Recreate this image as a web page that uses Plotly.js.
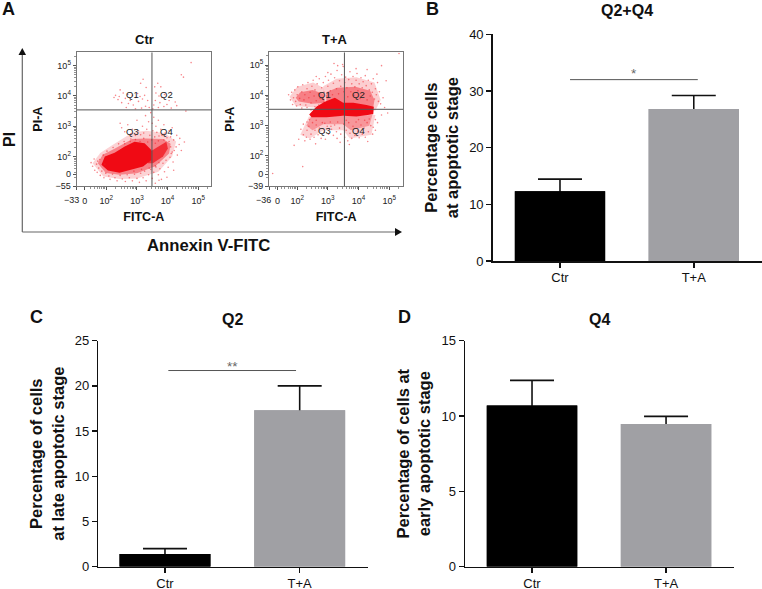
<!DOCTYPE html>
<html>
<head>
<meta charset="utf-8">
<script src="https://cdn.plot.ly/plotly-3.0.1.min.js"></script>
<style>html,body{margin:0;padding:0;background:#fff}#chart{width:762px;height:589px}</style>
</head>
<body>
<div id="chart"></div>
<script>
// ---------- bar data ----------
const groups = ["Ctr", "T+A"];
const q2q4Means = [12.3, 26.8];
const q2q4Errors = [2.15, 2.4];
const q2Means = [1.4, 17.3];
const q2Errors = [0.6, 2.7];
const q4Means = [10.7, 9.47];
const q4Errors = [1.67, 0.51];
const barColors = ["#000000", "#a0a0a4"];

// ---------- flow panels, in decades on the display scale ----------
// Outlines of the dense clouds, and individual events read from the fringes.
const ctrCore = [[1.84,1.73],[1.95,2.0],[2.27,2.13],[2.6,2.33],[2.92,2.49],[3.25,2.44],[3.47,2.22],[3.47,1.89],[3.2,1.67],[2.82,1.58],[2.43,1.47],[2.05,1.54]];
const ctrLobe = [[3.41,2.15],[3.72,2.33],[3.96,2.49],[4.01,2.27],[3.85,2.0],[3.52,1.78],[3.36,1.78]];
const ctrHaloInner = [[1.72,1.78],[1.88,2.06],[2.25,2.25],[2.85,2.58],[3.3,2.6],[3.85,2.58],[4.1,2.42],[4.05,2.1],[3.6,1.68],[3.0,1.45],[2.43,1.4],[1.98,1.46]];
const ctrHaloOuter = [[1.55,1.78],[1.8,2.12],[2.2,2.38],[2.87,2.8],[3.3,2.85],[3.9,2.78],[4.28,2.5],[4.15,2.0],[3.7,1.5],[3.0,1.28],[2.43,1.26],[1.9,1.34]];
const taCore = [[2.39,3.37],[2.63,3.63],[2.90,3.79],[3.23,3.92],[3.50,3.76],[3.83,3.76],[4.26,3.68],[4.50,3.62],[4.48,3.38],[3.93,3.30],[3.50,3.33],[2.96,3.28],[2.47,3.28]];
const taInnerLeft = [[1.95,3.92],[2.1,4.1],[2.5,4.18],[2.85,4.05],[2.9,3.75],[2.5,3.72],[2.05,3.8]];
const taInnerRight = [[2.95,4.1],[3.3,4.25],[3.9,4.28],[4.38,4.15],[4.52,3.85],[4.48,3.6],[2.95,3.75]];
const taInnerLow = [[2.3,3.0],[2.45,3.3],[4.45,3.35],[4.35,3.0],[3.75,2.85],[3.5,3.05],[2.85,3.05],[2.5,2.85]];
const taHaloLeft = [[1.75,3.95],[2.0,4.28],[2.52,4.42],[2.85,4.25],[2.90,3.75],[2.52,3.6],[1.95,3.65]];
const taHaloRight = [[2.85,4.3],[3.28,4.55],[3.93,4.6],[4.52,4.42],[4.72,3.85],[4.55,3.5],[2.85,3.7]];
const taHaloLow = [[2.1,2.7],[2.38,3.3],[4.55,3.35],[4.42,2.7],[3.72,2.58],[3.50,2.85],[2.85,2.85],[2.41,2.58]];

const ctrEvents = [
[2.25,3.95],[2.3,4.02],[2.38,3.88],[2.42,3.98],[2.55,4.1],[2.5,3.78],[2.62,3.92],[2.7,4.05],[2.72,3.75],[2.78,3.85],[2.85,4.02],[2.88,3.7],[2.95,3.95],[3.02,4.08],[3.05,3.82],[3.1,3.98],[3.12,4.42],[3.18,3.9],[3.2,4.55],[3.25,4.02],[3.28,3.66],[3.3,4.28],[3.35,3.85],[3.15,3.6],[2.65,3.62],[2.95,3.58],[3.4,3.62],[2.45,4.2],
[3.55,3.7],[3.6,3.85],[3.62,4.1],[3.68,4.42],[3.7,3.62],[3.75,3.78],[3.78,4.3],[3.82,3.95],[3.88,3.65],[3.9,4.05],[3.98,3.72],[4.05,3.85],[4.1,4.12],[4.12,3.6],[4.25,3.8],[4.3,3.68],[4.45,4.7],[4.52,4.62],[4.77,5.1],[4.6,3.5],[3.58,4.3],[3.52,3.58],[3.72,4.0],
[2.45,3.1],[2.5,2.95],[2.6,2.82],[2.7,3.05],[2.8,2.75],[2.85,2.9],[2.95,2.7],[3.0,3.2],[3.05,2.85],[3.12,2.72],[3.18,3.0],[3.22,2.78],[3.28,3.35],[3.32,2.9],[3.38,3.15],[3.42,2.7],[3.45,3.45],[3.5,3.1],[3.52,2.85],[3.55,3.3],[3.58,2.65],[3.62,3.0],[3.65,2.8],[3.7,3.2],[3.72,2.68],[3.78,2.9],[3.82,2.7],[3.88,3.05],[3.92,2.78],[3.98,2.62],[4.05,2.85],[4.1,2.65],[4.15,2.95],[4.2,2.55],[4.3,2.7],[4.4,2.6],
[1.5,1.8],[1.55,1.68],[1.6,1.92],[1.62,1.55],[1.68,1.75],[1.7,1.48],[1.75,1.62],[1.78,1.9],[1.8,1.38],[1.85,1.52],[1.9,2.05],[1.92,1.3],[1.98,1.45],[2.02,2.18],[2.08,1.36],[2.12,1.25],[2.2,1.42],[2.22,2.3],[2.28,1.3],[2.35,1.2],[2.4,2.42],[2.45,1.38],[2.52,1.26],[2.58,2.5],[2.62,1.18],[2.68,1.4],[2.75,1.3],[2.8,2.58],[2.85,1.2],[2.92,1.42],[3.0,1.28],[3.08,1.15],[3.12,1.45],[3.2,1.3],[3.25,1.52],[3.3,1.2],[3.38,1.4],[3.45,1.58],[3.5,1.28],[3.55,1.48],[3.6,1.12],[3.62,1.66],[3.7,1.4],[3.75,1.6],[3.8,1.25],[3.85,1.78],[3.9,1.5],[3.95,1.88],[4.02,1.65],[4.08,1.98],[4.12,2.1],[4.18,1.82],[4.22,2.2],[4.28,2.32],[4.32,2.05],[4.38,2.4],[4.45,2.2],[4.55,2.48],[4.2,1.55],[3.98,1.32],[3.72,1.22],
[2.6,2.42],[2.78,2.5],[2.95,2.56],[3.1,2.5],[3.22,2.6],[3.35,2.48],[3.48,2.55],[3.6,2.44],[3.7,2.52],[3.88,2.55],[4.05,2.5],[4.1,2.32],[4.15,2.15],[1.72,1.85],[1.95,1.75],[3.6,1.7],[3.72,1.8],[3.4,1.62],[3.15,1.58],[2.9,1.52]
];
const taEvents = [
[1.2,1.42],[2.18,1.65],[1.9,2.35],[2.05,2.55],[2.2,2.7],[2.12,2.88],[2.25,2.5],[2.3,2.62],[2.32,2.85],[2.38,2.98],[2.42,2.55],[2.45,2.72],[2.5,3.1],[2.55,2.62],[2.58,2.85],[2.62,3.02],[2.68,2.7],[2.72,2.92],[2.78,2.58],[2.82,3.1],[2.88,2.78],[2.92,2.55],[2.98,2.98],[3.02,2.72],[3.08,3.12],[3.12,2.88],[3.18,2.68],[3.22,3.02],[3.28,2.8],[3.32,3.12],[3.38,2.92],[3.42,2.72],[3.52,3.05],[3.55,2.62],[3.6,2.85],[3.65,2.5],[3.68,3.1],[3.72,2.75],[3.78,2.58],[3.82,2.98],[3.88,2.68],[3.92,3.12],[3.98,2.82],[4.02,2.6],[4.08,3.02],[4.12,2.72],[4.18,2.92],[4.22,2.62],[4.28,3.1],[4.32,2.8],[4.4,3.0],[4.46,2.72],[4.55,3.2],[4.62,3.1],[4.75,3.35],[4.3,2.48],[3.7,2.38],[2.6,2.4],[3.4,2.45],
[1.72,4.02],[1.78,3.85],[1.82,4.1],[1.88,3.92],[1.92,4.18],[1.95,3.8],[2.0,4.02],[2.02,4.28],[2.08,3.9],[2.1,3.7],[2.15,4.12],[2.18,4.35],[2.22,3.85],[2.25,4.02],[2.28,3.68],[2.32,4.22],[2.35,4.42],[2.38,3.92],[2.42,4.1],[2.45,3.75],[2.48,4.3],[2.52,4.5],[2.55,3.98],[2.58,4.18],[2.62,3.82],[2.65,4.38],[2.7,4.05],[2.72,4.55],[2.75,3.9],[2.8,4.25],[2.85,4.42],[2.88,4.1],[2.92,4.62],[2.95,3.98],[3.0,4.3],[3.02,4.5],[3.08,4.15],[3.1,4.7],[3.15,4.02],[3.18,4.4],[3.22,4.58],[3.28,4.22],[3.3,4.82],[3.32,4.98],[3.35,4.05],[3.38,4.48],[3.42,4.3],[3.45,4.68],[3.48,5.02],
[3.52,4.12],[3.55,4.42],[3.58,4.6],[3.62,4.25],[3.65,3.95],[3.68,4.52],[3.72,4.78],[3.75,4.12],[3.78,4.38],[3.82,4.62],[3.85,4.0],[3.88,4.28],[3.92,4.5],[3.95,4.72],[3.98,4.15],[4.02,4.38],[4.05,3.9],[4.08,4.58],[4.12,4.25],[4.15,4.45],[4.18,4.05],[4.22,4.65],[4.25,4.32],[4.28,3.85],[4.32,4.5],[4.35,4.18],[4.38,3.98],[4.42,4.38],[4.45,4.1],[4.48,4.55],[4.52,3.88],[4.55,4.22],[4.58,4.02],[4.62,4.42],[4.65,3.8],[4.68,4.12],[4.72,3.72],[4.85,3.6],[4.95,3.42],[4.8,3.92],[4.9,4.48],[4.75,4.98],
[3.2,5.05],[3.5,4.95],[3.92,4.88],[4.28,4.85],[3.0,4.75],[2.62,4.62],[4.6,4.7],[5.32,5.38],[2.9,3.08],[3.1,2.98],[3.3,2.58],[3.6,3.18],[4.0,3.2],[4.2,3.18],[4.35,3.22],[4.48,2.95],[4.55,2.85],[2.4,3.2],[2.32,3.12],[2.2,3.05],[2.62,3.18],[1.98,3.65],[2.15,3.58],[2.32,3.6],[2.45,3.52],[1.85,3.7],[2.58,3.62],[2.7,3.68]
];

const decadeTicks = [2, 3, 4, 5];
const decadeLabels = ["10<sup>2</sup>", "10<sup>3</sup>", "10<sup>4</sup>", "10<sup>5</sup>"];
const ctrXTicks = [1.03, 1.29].concat(decadeTicks);
const ctrXLabels = ["", "0"].concat(decadeLabels);
const ctrXEdgeLabel = "\u221233";
const ctrYTicks = [1.03, 1.42].concat(decadeTicks);
const ctrYLabels = ["\u221255", "0"].concat(decadeLabels);
const taXTicks = [1.08, 1.36].concat(decadeTicks);
const taXLabels = ["", "0"].concat(decadeLabels);
const taXEdgeLabel = "\u221236";
const taYTicks = [1.01, 1.40].concat(decadeTicks);
const taYLabels = ["\u221239", "0"].concat(decadeLabels);
const decadeMinor = [0.30, 0.48, 0.60, 0.70, 0.78, 0.85, 0.90, 0.95];

// ---------- page geometry ----------
const W = 762, H = 589, FONT = '"Liberation Sans", Arial, sans-serif';
const px = x => x / W, py = y => 1 - y / H;
const xDom = (a, b) => [px(a), px(b)], yDom = (top, bot) => [py(bot), py(top)];

function minorTicks(lo, hi) {
  const out = [];
  for (let d = 1; d <= 5; d++) decadeMinor.forEach(m => { if (d + m > lo && d + m < hi) out.push(d + m); });
  return out;
}
function flowAxis(dom, range, vals, labels, titleText, standoff) {
  return {
    domain: dom, range: range, showgrid: false, zeroline: false,
    showline: true, mirror: true, linecolor: "#777", linewidth: 1,
    ticks: "outside", ticklen: 3, tickwidth: 1, tickcolor: "#555", tickangle: 0,
    tickmode: "array", tickvals: vals, ticktext: labels,
    tickfont: {family: FONT, size: 9, color: "#222"},
    minor: {tickmode: "array", tickvals: minorTicks(range[0], range[1]), ticks: "outside", ticklen: 2, tickwidth: 0.7, tickcolor: "#666"},
    title: {text: "<b>" + titleText + "</b>", font: {family: FONT, size: 12.5, color: "#111"}, standoff: standoff}
  };
}
function barXAxis(dom, range) {
  return {
    domain: dom, range: range, showgrid: false, zeroline: false, showline: true,
    linecolor: "#111", linewidth: 1.5, ticks: "outside", ticklen: 5, tickwidth: 1.5, tickcolor: "#111",
    tickmode: "array", tickvals: [0, 1], ticktext: groups, ticklabelstandoff: -1,
    tickfont: {family: FONT, size: 13, color: "#111"}
  };
}
function barYAxis(dom, range, dtick, titleText, standoff) {
  return {
    domain: dom, range: range, dtick: dtick, tick0: 0, showgrid: false, zeroline: false, showline: true,
    linecolor: "#111", linewidth: 1.5, ticks: "outside", ticklen: 5, tickwidth: 1.5, tickcolor: "#111",
    tickfont: {family: FONT, size: 13, color: "#111"},
    title: {text: "<b>" + titleText + "</b>", font: {family: FONT, size: 16.5, color: "#111"}, standoff: standoff}
  };
}
// The error bar is drawn symmetric on one bar, and a second copy of the bar on
// top covers its lower half, so only the upper whisker shows as in the figure.
function barTraces(means, errors, xa, ya) {
  const base = {type: "bar", x: [0, 1], y: means, width: 0.675, xaxis: xa, yaxis: ya,
    marker: {color: barColors, line: {width: 0}}, showlegend: false, hoverinfo: "skip"};
  return [
    Object.assign({}, base, {error_y: {type: "data", symmetric: true, array: errors, color: "#111", thickness: 1.6, width: 22}}),
    Object.assign({}, base)
  ];
}
function cloud(poly, xa, ya, opacity) {
  return {
    type: "scatter", mode: "lines", x: poly.map(p => p[0]).concat(poly[0][0]), y: poly.map(p => p[1]).concat(poly[0][1]),
    fill: "toself", fillcolor: "rgba(240,10,20," + opacity + ")", line: {width: 0}, xaxis: xa, yaxis: ya,
    showlegend: false, hoverinfo: "skip"
  };
}
function events(list, xa, ya) {
  return {
    type: "scatter", mode: "markers", x: list.map(p => p[0]), y: list.map(p => p[1]), xaxis: xa, yaxis: ya,
    marker: {size: 1.6, color: "#f0202a", opacity: 0.55, line: {width: 0}}, showlegend: false, hoverinfo: "skip"
  };
}

const traces = [
  cloud(ctrHaloOuter, "x", "y", 0.18), cloud(ctrHaloInner, "x", "y", 0.4), cloud(ctrLobe, "x", "y", 0.7), cloud(ctrCore, "x", "y", 1), events(ctrEvents, "x", "y"),
  cloud(taHaloLeft, "x2", "y2", 0.2), cloud(taHaloRight, "x2", "y2", 0.2), cloud(taHaloLow, "x2", "y2", 0.18),
  cloud(taInnerLeft, "x2", "y2", 0.4), cloud(taInnerRight, "x2", "y2", 0.4), cloud(taInnerLow, "x2", "y2", 0.3),
  cloud(taCore, "x2", "y2", 1), events(taEvents, "x2", "y2")
].concat(
  barTraces(q2q4Means, q2q4Errors, "x3", "y3"),
  barTraces(q2Means, q2Errors, "x4", "y4"),
  barTraces(q4Means, q4Errors, "x5", "y5")
);

const ax1 = flowAxis(xDom(76.7, 211), [1.03, 5.42], ctrXTicks, ctrXLabels, "FITC-A", 7); ax1.anchor = "y"; ax1.ticklabelstandoff = 3;
const ay1 = flowAxis(yDom(52.3, 186), [1.03, 5.44], ctrYTicks, ctrYLabels, "PI-A", 10); ay1.anchor = "x";
const ax2 = flowAxis(xDom(269, 403.3), [1.08, 5.46], taXTicks, taXLabels, "FITC-A", 7); ax2.anchor = "y2"; ax2.ticklabelstandoff = 3;
const ay2 = flowAxis(yDom(52.3, 186), [1.01, 5.42], taYTicks, taYLabels, "PI-A", 10); ay2.anchor = "x2";

const ax3 = barXAxis(xDom(492.7, 762), [-0.503, 1.51]); ax3.anchor = "y3";
const ay3 = barYAxis(yDom(34.3, 261), [0, 40], 10, "Percentage cells<br>at apoptotic stage", 6); ay3.anchor = "x3";
const ax4 = barXAxis(xDom(98.3, 367.7), [-0.495, 1.505]); ax4.anchor = "y4";
const ay4 = barYAxis(yDom(340.7, 566.7), [0, 25], 5, "Percentage of cells<br>at late apoptotic stage", 6); ay4.anchor = "x4";
const ax5 = barXAxis(xDom(465, 734), [-0.5, 1.507]); ax5.anchor = "y5";
const ay5 = barYAxis(yDom(340.7, 566.7), [0, 15], 5, "Percentage of cells at<br>early apoptotic stage", 6); ay5.anchor = "x5";

function label(text, x, y, size, bold, angle) {
  return {xref: "paper", yref: "paper", x: px(x), y: py(y), xanchor: "center", yanchor: "middle", showarrow: false,
    text: bold ? "<b>" + text + "</b>" : text, textangle: angle || 0, font: {family: FONT, size: size, color: "#111"}};
}
function edgeTick(text, x, y) {
  return {xref: "paper", yref: "paper", x: px(x), y: py(y), xanchor: "center", yanchor: "middle", showarrow: false,
    text: text, font: {family: FONT, size: 9, color: "#222"}};
}
function quad(text, x, y, xa, ya) {
  return {xref: xa, yref: ya, x: x, y: y, xanchor: "center", yanchor: "middle", showarrow: false, text: text,
    font: {family: FONT, size: 9.5, color: "#222"}};
}
const annotations = [
  label("A", 8, 9, 18, true), label("B", 432, 9, 18, true), label("C", 36, 317, 18, true), label("D", 404, 317, 18, true),
  label("Ctr", 144, 40, 13, true), label("T+A", 335, 40, 13, true),
  label("Q2+Q4", 627, 10, 16, true), label("Q2", 232, 319, 16, true), label("Q4", 599, 319, 16, true),
  label("PI", 9, 140, 16, true, -90), label("Annexin V-FITC", 209, 246, 16.7, true),
  edgeTick(ctrXEdgeLabel, 71, 200), edgeTick(taXEdgeLabel, 263, 200),
  quad("Q1", 2.85, 4.04, "x", "y"), quad("Q2", 3.97, 4.04, "x", "y"), quad("Q3", 2.85, 2.84, "x", "y"), quad("Q4", 3.97, 2.84, "x", "y"),
  quad("Q1", 2.9, 4.04, "x2", "y2"), quad("Q2", 4.01, 4.04, "x2", "y2"), quad("Q3", 2.9, 2.84, "x2", "y2"), quad("Q4", 4.01, 2.84, "x2", "y2"),
  {xref: "x3", yref: "y3", x: 0.55, y: 33, showarrow: false, text: "*", font: {family: FONT, size: 13.5, color: "#666"}},
  {xref: "x4", yref: "y4", x: 0.5, y: 22.2, showarrow: false, text: "**", font: {family: FONT, size: 13.5, color: "#666"}}
];

function hairline(xa, ya, x0, y0, x1, y1, color, width) {
  return {type: "line", xref: xa, yref: ya, x0: x0, y0: y0, x1: x1, y1: y1, layer: "above", line: {color: color, width: width}};
}
const shapes = [
  hairline("x", "y", 3.49, 1.03, 3.49, 5.44, "#555", 1),
  hairline("x", "y", 1.03, 3.54, 5.42, 3.54, "#555", 1),
  hairline("x2", "y2", 3.54, 1.01, 3.54, 5.42, "#555", 1),
  hairline("x2", "y2", 1.08, 3.54, 5.46, 3.54, "#555", 1),
  hairline("x3", "y3", 0.075, 32, 1.03, 32, "#555", 1),
  hairline("x4", "y4", 0.025, 21.7, 0.973, 21.7, "#555", 1),
  // Annexin / PI arrows
  hairline("paper", "paper", px(22.3), py(232), px(22.3), py(55), "#666", 1.2),
  hairline("paper", "paper", px(22.3), py(232), px(396), py(232), "#666", 1.2),
  {type: "path", xref: "paper", yref: "paper", fillcolor: "#111", line: {width: 0},
    path: `M ${px(18.5)} ${py(55)} L ${px(26)} ${py(55)} L ${px(22.3)} ${py(48)} Z`},
  {type: "path", xref: "paper", yref: "paper", fillcolor: "#111", line: {width: 0},
    path: `M ${px(395)} ${py(228)} L ${px(395)} ${py(236)} L ${px(402)} ${py(232)} Z`}
];

const layout = {
  width: W, height: H, margin: {l: 0, r: 0, t: 0, b: 0}, paper_bgcolor: "#fff", plot_bgcolor: "rgba(0,0,0,0)",
  showlegend: false, barmode: "overlay", font: {family: FONT},
  xaxis: ax1, yaxis: ay1, xaxis2: ax2, yaxis2: ay2, xaxis3: ax3, yaxis3: ay3, xaxis4: ax4, yaxis4: ay4, xaxis5: ax5, yaxis5: ay5,
  annotations: annotations, shapes: shapes
};
Plotly.newPlot("chart", traces, layout, {displayModeBar: false, staticPlot: true});
</script>
</body>
</html>
